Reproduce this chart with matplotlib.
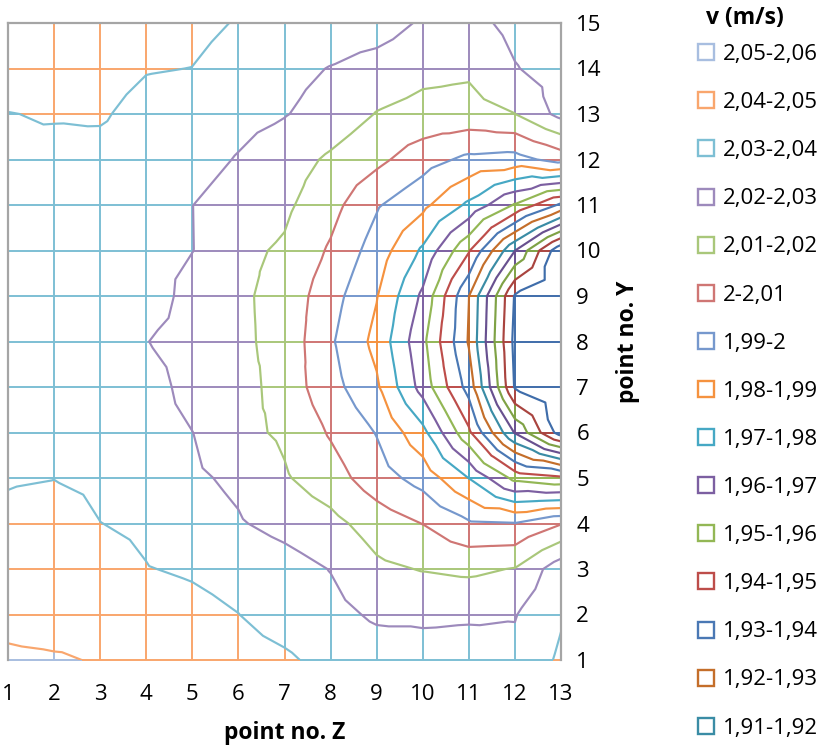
import numpy as np
import matplotlib
matplotlib.use("Agg")
import matplotlib.pyplot as plt
import matplotlib.tri as mtri
from matplotlib.collections import LineCollection
from matplotlib.lines import Line2D

# ---------------- data ----------------
z_points = [1, 2, 3, 4, 5, 6, 7, 8, 9, 10, 11, 12, 13]          # point no. Z
y_points = [1, 2, 3, 4, 5, 6, 7, 8, 9, 10, 11, 12, 13, 14, 15]  # point no. Y

# velocity v (m/s) per row "point no. Y", columns = point no. Z 1..13
v_y01 = [2.0525, 2.0515, 2.049, 2.047, 2.0455, 2.0435, 2.0415, 2.037, 2.035, 2.0335, 2.0335, 2.0325, 2.0416]
v_y02 = [2.0457, 2.0435, 2.0445, 2.044, 2.0425, 2.0401, 2.036, 2.033, 2.0285, 2.0285, 2.029, 2.0295, 2.039]
v_y03 = [2.0465, 2.0455, 2.0435, 2.0403, 2.039, 2.037, 2.034, 2.0297, 2.022, 2.0195, 2.018, 2.0205, 2.036]
v_y04 = [2.0428, 2.045, 2.0401, 2.0385, 2.034, 2.0308, 2.027, 2.0229, 2.0155, 2.0098, 2.0015, 2.0005, 2.0095]
v_y05 = [2.039, 2.0398, 2.038, 2.035, 2.0315, 2.0282, 2.021, 2.0145, 2.0045, 1.9962, 1.9798, 1.957, 1.952]
v_y06 = [2.0385, 2.0375, 2.036, 2.0335, 2.0301, 2.0226, 2.0185, 2.009, 1.9995, 1.983, 1.952, 1.909, 1.875]
v_y07 = [2.038, 2.037, 2.0355, 2.0337, 2.027, 2.0242, 2.0158, 2.0037, 1.9915, 1.966, 1.936, 1.879, 1.872]
v_y08 = [2.037, 2.035, 2.033, 2.0302, 2.027, 2.0221, 2.0166, 2.0013, 1.9872, 1.9625, 1.929, 1.877, 1.872]
v_y09 = [2.039, 2.038, 2.037, 2.036, 2.026, 2.0218, 2.0165, 2.004, 1.9905, 1.968, 1.9302, 1.879, 1.872]
v_y10 = [2.038, 2.037, 2.0355, 2.0335, 2.0302, 2.0223, 2.0187, 2.0087, 1.9955, 1.9784, 1.951, 1.9102, 1.872]
v_y11 = [2.0375, 2.037, 2.0355, 2.0335, 2.0301, 2.026, 2.0219, 2.0135, 2.001, 1.9925, 1.978, 1.959, 1.938]
v_y12 = [2.039, 2.0378, 2.0372, 2.036, 2.0335, 2.0294, 2.0245, 2.0185, 2.0125, 2.0042, 1.9977, 1.9963, 2.004]
v_y13 = [2.0398, 2.0406, 2.041, 2.037, 2.036, 2.033, 2.0305, 2.026, 2.0196, 2.017, 2.0165, 2.0199, 2.033]
v_y14 = [2.0445, 2.0445, 2.0435, 2.0405, 2.0399, 2.037, 2.033, 2.0296, 2.026, 2.0225, 2.0215, 2.0295, 2.034]
v_y15 = [2.046, 2.046, 2.045, 2.044, 2.042, 2.0395, 2.038, 2.036, 2.0349, 2.0287, 2.027, 2.0327, 2.036]

# band edges (m/s), lowest to highest
band_edges = [1.87, 1.88, 1.89, 1.90, 1.91, 1.92, 1.93, 1.94, 1.95, 1.96,
              1.97, 1.98, 1.99, 2.00, 2.01, 2.02, 2.03, 2.04, 2.05, 2.06]
band_colors = ["#3F6DAA", "#A9443F", "#7FA245", "#68508F", "#3A8CA5", "#C46E2A",
               "#4A78B4", "#BD4D4A", "#93B755", "#7C5FA1", "#46A8C4", "#F5923F",
               "#7698CD", "#CF7674", "#A9C77A", "#9D8ABC", "#7DBFD4", "#F9A66D",
               "#A8BEE0"]
legend_labels = ["2,05-2,06", "2,04-2,05", "2,03-2,04", "2,02-2,03", "2,01-2,02",
                 "2-2,01", "1,99-2", "1,98-1,99", "1,97-1,98", "1,96-1,97",
                 "1,95-1,96", "1,94-1,95", "1,93-1,94", "1,92-1,93", "1,91-1,92"]
legend_title = "v (m/s)"

V = np.array([v_y01, v_y02, v_y03, v_y04, v_y05, v_y06, v_y07, v_y08,
              v_y09, v_y10, v_y11, v_y12, v_y13, v_y14, v_y15])
Zx = np.array(z_points, dtype=float)
Yy = np.array(y_points, dtype=float)
edges = np.array(band_edges)
inner_levels = edges[1:-1]


def band_of(val):
    k = np.searchsorted(edges, val, side="right") - 1
    return int(np.clip(k, 0, len(band_colors) - 1))


# ---------------- figure ----------------
W, H = 824, 749
fig = plt.figure(figsize=(W / 100, H / 100), dpi=100)
plt.rcParams["font.family"] = ["Open Sans", "DejaVu Sans"]
FS = 16
ax = fig.add_axes([8 / W, (H - 660) / H, 553 / W, 637 / H])
ax.set_xlim(Zx[0], Zx[-1])
ax.set_ylim(Yy[0], Yy[-1])

# coloured wireframe grid (each grid edge coloured by value band)
segs, cols = [], []
ny, nx = V.shape
def add_edge(p0, p1, a, b):
    ts = [0.0, 1.0]
    for L in inner_levels:
        if (a - L) * (b - L) < 0:
            ts.append((L - a) / (b - a))
    ts = sorted(ts)
    p0 = np.array(p0); p1 = np.array(p1)
    for t0, t1 in zip(ts[:-1], ts[1:]):
        if t1 - t0 < 1e-9:
            continue
        mid = a + (b - a) * (t0 + t1) / 2
        segs.append([p0 + (p1 - p0) * t0, p0 + (p1 - p0) * t1])
        cols.append(band_colors[band_of(mid)])

for j in range(ny):
    for i in range(nx - 1):
        add_edge((Zx[i], Yy[j]), (Zx[i + 1], Yy[j]), V[j, i], V[j, i + 1])
for i in range(nx):
    for j in range(ny - 1):
        add_edge((Zx[i], Yy[j]), (Zx[i], Yy[j + 1]), V[j, i], V[j + 1, i])

lc = LineCollection(segs, colors=cols, linewidths=1.4, zorder=2, clip_on=False,
                    capstyle="butt")
ax.add_collection(lc)

# contour lines: each cell split into four triangles around its centre
XX, YY = np.meshgrid(Zx, Yy)
px = list(XX.ravel()); py = list(YY.ravel()); pv = list(V.ravel())
tris = []
for j in range(ny - 1):
    for i in range(nx - 1):
        a = j * nx + i; b = a + 1; c = a + nx + 1; d = a + nx
        cidx = len(px)
        px.append((Zx[i] + Zx[i + 1]) / 2); py.append((Yy[j] + Yy[j + 1]) / 2)
        pv.append(np.mean([V[j, i], V[j, i + 1], V[j + 1, i], V[j + 1, i + 1]]))
        tris += [[a, b, cidx], [b, c, cidx], [c, d, cidx], [d, a, cidx]]
tri = mtri.Triangulation(np.array(px), np.array(py), np.array(tris))
line_cols = [band_colors[k] for k in range(len(inner_levels))]
ax.tricontour(tri, np.array(pv), levels=inner_levels, colors=line_cols,
              linewidths=1.55, zorder=3)

# frame
for s in ["left", "top", "right"]:
    ax.spines[s].set_color("#A5A5A5")
    ax.spines[s].set_linewidth(1.6)
    ax.spines[s].set_zorder(4)
ax.spines["bottom"].set_visible(False)

ax.set_xticks(z_points)
ax.set_xticklabels([str(t) for t in z_points])
ax.set_yticks(y_points)
ax.set_yticklabels([str(t) for t in y_points])
ax.yaxis.tick_right()
ax.tick_params(axis="both", length=0, labelsize=FS, colors="black")
ax.tick_params(axis="x", pad=17.5)
ax.tick_params(axis="y", pad=11)

ax.set_xlabel("point no. Z", fontsize=16.5, fontweight="bold")
ax.xaxis.set_label_coords(0.5, -(721 - 660) / 637)
ax.yaxis.set_label_position("right")
ax.set_ylabel("point no. Y", fontsize=16.5, fontweight="bold", rotation=90)
ax.yaxis.set_label_coords((616 - 8) / 553, 0.5)

# legend (highest band first)
handles = []
for k in range(len(legend_labels)):
    col = band_colors[len(band_colors) - 1 - k]
    handles.append(Line2D([], [], linestyle="None", marker="s", markersize=11,
                          markerfacecolor="white", markeredgecolor=col,
                          markeredgewidth=1.7))
leg = fig.legend(handles, legend_labels, loc="upper left",
                 bbox_to_anchor=(697 / W, 1 - 44 / H), frameon=False,
                 fontsize=FS, borderpad=0, borderaxespad=0, handlelength=0.8,
                 handletextpad=0.35, labelspacing=1.22)
fig.text(745 / W, 1 - 18 / H, legend_title, fontsize=16.5, fontweight="bold",
         ha="center", va="center")

fig.savefig("out.png", dpi=100)
